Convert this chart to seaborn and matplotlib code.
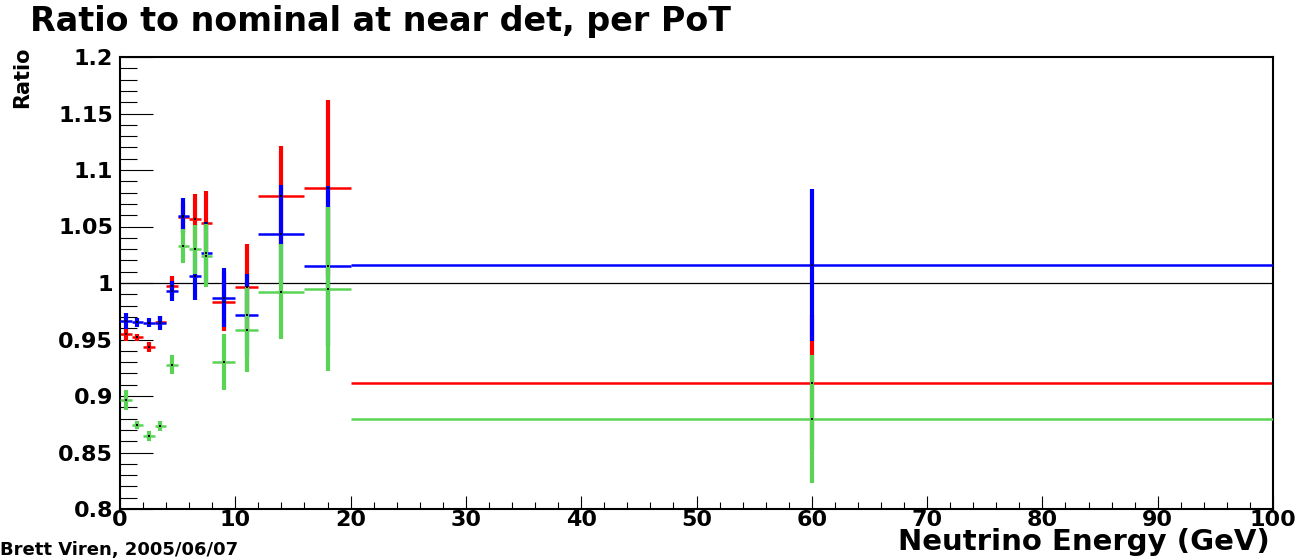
import numpy as np
import pandas as pd
import matplotlib
matplotlib.use("Agg")
import matplotlib.pyplot as plt
import seaborn as sns
from matplotlib.ticker import MultipleLocator, FixedLocator, FixedFormatter

# ---------------- data ----------------
bin_edges = [0, 1, 2, 3, 4, 5, 6, 7, 8, 10, 12, 16, 20, 100]

red_ratio = [0.9546, 0.9520, 0.9430, 0.9658, 0.9976, 1.0580, 1.0566, 1.0534,
             0.9835, 0.9965, 1.0770, 1.0838, 0.9118]
red_err = [0.0058, 0.0033, 0.0045, 0.0050, 0.0086, 0.0130, 0.0218, 0.0280,
           0.0260, 0.0378, 0.0442, 0.0780, 0.0600]

blue_ratio = [0.9664, 0.9652, 0.9650, 0.9650, 0.9932, 1.0593, 1.0062, 1.0268,
              0.9870, 0.9714, 1.0434, 1.0150, 1.0159]
blue_err = [0.0070, 0.0040, 0.0043, 0.0062, 0.0090, 0.0156, 0.0210, 0.0274,
            0.0260, 0.0370, 0.0434, 0.0710, 0.0670]

green_ratio = [0.8965, 0.8745, 0.8646, 0.8735, 0.9277, 1.0327, 1.0300, 1.0242,
               0.9304, 0.9587, 0.9923, 0.9944, 0.8794]
green_err = [0.0090, 0.0033, 0.0040, 0.0045, 0.0083, 0.0152, 0.0217, 0.0276,
             0.0248, 0.0376, 0.0420, 0.0727, 0.0566]

y_ticks = [0.8, 0.85, 0.9, 0.95, 1.0, 1.05, 1.1, 1.15, 1.2]
y_tick_labels = ["0.8", "0.85", "0.9", "0.95", "1", "1.05", "1.1", "1.15", "1.2"]
x_ticks = [0, 10, 20, 30, 40, 50, 60, 70, 80, 90, 100]
x_tick_labels = ["0", "10", "20", "30", "40", "50", "60", "70", "80", "90", "100"]

title = "Ratio to nominal at near det, per PoT"
x_label = "Neutrino Energy (GeV)"
y_label = "Ratio"
footer = "Brett Viren, 2005/06/07"

# ---------------- style ----------------
sns.set_theme(style="white")
plt.rcParams["font.family"] = ["DejaVu Sans"]
plt.rcParams["font.weight"] = "bold"
plt.rcParams["text.color"] = "black"
plt.rcParams["axes.labelcolor"] = "black"
plt.rcParams["xtick.color"] = "black"
plt.rcParams["ytick.color"] = "black"

edges = np.array(bin_edges, dtype=float)
centers = (edges[:-1] + edges[1:]) / 2.0
half_w = (edges[1:] - edges[:-1]) / 2.0

df = pd.concat([
    pd.DataFrame({"energy": centers, "ratio": red_ratio, "err": red_err, "series": "red"}),
    pd.DataFrame({"energy": centers, "ratio": blue_ratio, "err": blue_err, "series": "blue"}),
    pd.DataFrame({"energy": centers, "ratio": green_ratio, "err": green_err, "series": "green"}),
], ignore_index=True)

colors = {"red": "#ff0000", "blue": "#0000ff", "green": "#59d454"}

W, H = 1305, 559
fig = plt.figure(figsize=(W / 100, H / 100), dpi=100)
fig.patch.set_facecolor("white")
ax = fig.add_axes([120 / W, (H - 509) / H, 1153 / W, 452 / H])
ax.set_facecolor("white")

ax.axhline(1.0, color="black", lw=0.9, zorder=1)

z = 2
for name in ["red", "blue", "green"]:
    d = df[df["series"] == name]
    ax.errorbar(d["energy"], d["ratio"], yerr=d["err"], fmt="none",
                ecolor=colors[name], elinewidth=3.0, capsize=0, zorder=z)
    ax.errorbar(d["energy"], d["ratio"], xerr=half_w, fmt="none",
                ecolor=colors[name], elinewidth=1.8, capsize=0, zorder=z + 0.5)
    z += 1

sns.scatterplot(data=df, x="energy", y="ratio", color="black", marker="s",
                s=3, linewidth=0, ax=ax, zorder=10, legend=False)

ax.set_xlim(0, 100)
ax.set_ylim(0.8, 1.2)
ax.set_xlabel("")
ax.set_ylabel("")

ax.yaxis.set_major_locator(FixedLocator(y_ticks))
ax.yaxis.set_major_formatter(FixedFormatter(y_tick_labels))
ax.yaxis.set_minor_locator(MultipleLocator(0.01))
ax.xaxis.set_major_locator(FixedLocator(x_ticks))
ax.xaxis.set_major_formatter(FixedFormatter(x_tick_labels))
ax.xaxis.set_minor_locator(MultipleLocator(2))

ax.tick_params(axis="y", which="major", direction="in", length=24, width=0.8,
               color="black", labelcolor="black", left=True, right=False,
               labelsize=16, pad=5)
ax.tick_params(axis="y", which="minor", direction="in", length=12, width=0.8,
               color="black", left=True, right=False)
ax.tick_params(axis="x", which="major", direction="in", length=9.5, width=0.8,
               color="black", labelcolor="black", bottom=True, top=False,
               labelsize=16, pad=1)
ax.tick_params(axis="x", which="minor", direction="in", length=5, width=0.8,
               color="black", bottom=True, top=False)
for lbl in ax.get_xticklabels() + ax.get_yticklabels():
    lbl.set_fontweight("bold")

for side in ["left", "bottom", "top", "right"]:
    ax.spines[side].set_visible(True)
    ax.spines[side].set_color("black")
    ax.spines[side].set_linewidth(1.5)

fig.text(30 / W, 1 - 5 / H, title, fontsize=24, fontweight="bold",
         color="black", ha="left", va="top")
fig.text(22 / W, 1 - 47 / H, y_label, rotation=90, fontsize=15,
         fontweight="bold", color="black", ha="center", va="top")
fig.text(1270 / W, (H - 550) / H, x_label, fontsize=21, fontweight="bold",
         color="black", ha="right", va="baseline")
fig.text(0 / W, (H - 555) / H, footer, fontsize=13, fontweight="bold",
         color="black", ha="left", va="baseline")

fig.savefig("out.png", dpi=100)
